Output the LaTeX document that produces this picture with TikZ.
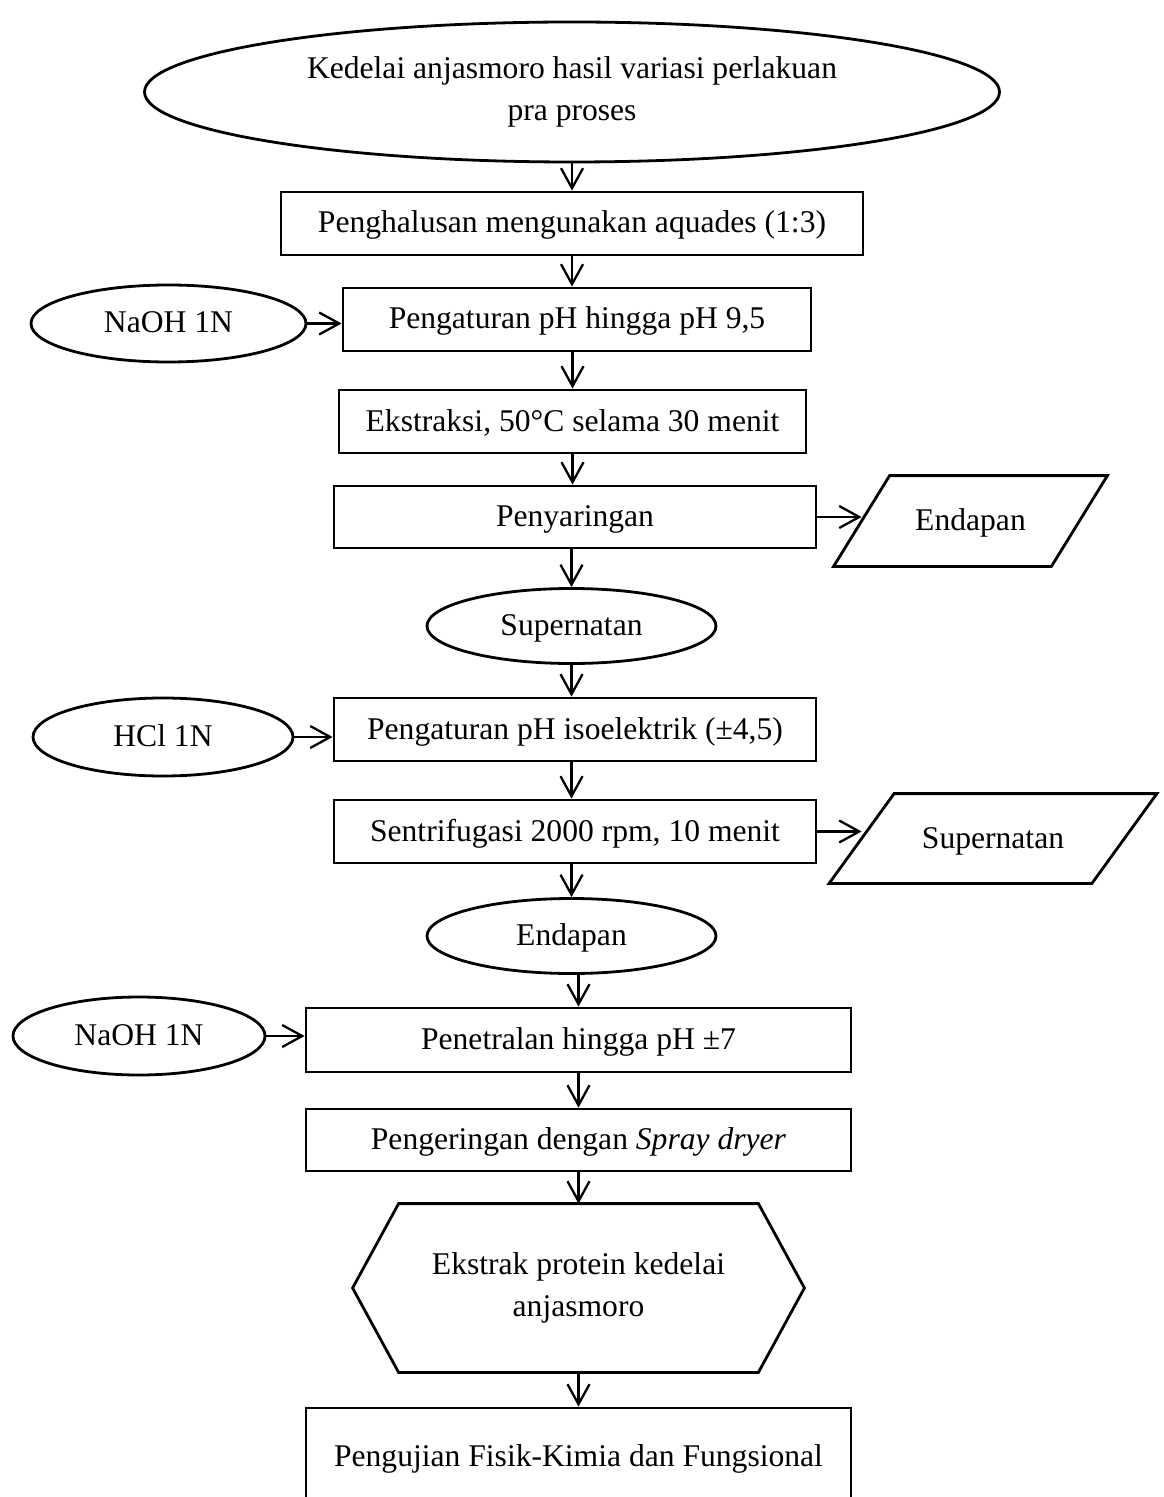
\documentclass[tikz,border=0pt]{standalone}
\usepackage{fontspec}
\setmainfont{Liberation Serif}
\usetikzlibrary{shapes.geometric,arrows.meta,calc}
\begin{document}
\begin{tikzpicture}[x=0.5pt,y=-0.5pt,
  every node/.style={font=\fontsize{15.8}{21}\selectfont},
  oneline/.style={text height=12.5pt, text depth=3pt},
  box/.style={draw, line width=1.4pt, rectangle, inner sep=0pt, align=center, oneline},
  oval/.style={draw, line width=1.4pt, ellipse, inner sep=0pt, align=center},
  frame/.style={rectangle, inner sep=0pt, align=center},
  outline/.style={draw, line width=1.4pt, line join=miter},
  arr/.style={-{Straight Barb[length=10pt,width=11pt]}, line width=1.15pt}]
\useasboundingbox (0,0) rectangle (1163,1497);
\clip (0,0) rectangle (1163,1497);
\fill[white] (0,0) rectangle (1163,1497);

% main column
\node[oval, minimum width=427.5pt, minimum height=70pt] (e0) at (572,92)
  {Kedelai anjasmoro hasil variasi perlakuan\\pra proses};
\node[box, minimum width=291pt, minimum height=31.5pt] (b1) at (572,223.5)
  {Penghalusan mengunakan aquades (1:3)};
\node[box, minimum width=234pt, minimum height=31.5pt] (b2) at (577,319.5)
  {Pengaturan pH hingga pH 9,5};
\node[box, minimum width=233.5pt, minimum height=31.5pt] (b3) at (572.5,421.5)
  {Ekstraksi, 50°C selama 30 menit};
\node[box, minimum width=241pt, minimum height=31pt] (b4) at (575,517)
  {Penyaringan};
\node[oval, oneline, minimum width=144.5pt, minimum height=37.5pt] (e1) at (571.5,626)
  {Supernatan};
\node[box, minimum width=241pt, minimum height=31.5pt] (b5) at (575,729.5)
  {Pengaturan pH isoelektrik (±4,5)};
\node[box, minimum width=241pt, minimum height=31.5pt] (b6) at (575,831.5)
  {Sentrifugasi 2000 rpm, 10 menit};
\node[oval, oneline, minimum width=144.5pt, minimum height=37.5pt] (e2) at (571.5,936)
  {Endapan};
\node[box, minimum width=272.5pt, minimum height=32pt] (b7) at (578.5,1040)
  {Penetralan hingga pH ±7};
\node[box, minimum width=272.5pt, minimum height=31pt] (b8) at (578.5,1140)
  {Pengeringan dengan \textit{Spray dryer}};
\node[frame, minimum width=225.5pt, minimum height=84pt] (hx) at (578.5,1288)
  {Ekstrak protein kedelai\\anjasmoro};
\draw[outline] (hx.west) -- ($(hx.north west)+(46,0)$) -- ($(hx.north east)+(-46,0)$)
  -- (hx.east) -- ($(hx.south east)+(-46,0)$) -- ($(hx.south west)+(46,0)$) -- cycle;
\node[box, minimum width=272.5pt, minimum height=49pt] (b9) at (578.5,1457)
  {Pengujian Fisik-Kimia dan Fungsional};

% side inputs
\node[oval, oneline, minimum width=137.5pt, minimum height=38.5pt] (n1) at (168.5,323.5) {NaOH 1N};
\node[oval, oneline, minimum width=130pt, minimum height=39pt] (h1) at (163,737) {HCl 1N};
\node[oval, oneline, minimum width=126pt, minimum height=39pt] (n2) at (139,1036) {NaOH 1N};

% outputs (parallelograms)
\node[frame, oneline, minimum width=108.5pt, minimum height=45pt] (p1) at (970.5,521) {Endapan};
\draw[outline] ($(p1.north west)+(28,0)$) -- ($(p1.north east)+(28,0)$)
  -- ($(p1.south east)+(-28,0)$) -- ($(p1.south west)+(-28,0)$) -- cycle;
\node[frame, oneline, minimum width=131pt, minimum height=44.5pt] (p2) at (993,838.5) {Supernatan};
\draw[outline] ($(p2.north west)+(32.5,0)$) -- ($(p2.north east)+(32.5,0)$)
  -- ($(p2.south east)+(-32.5,0)$) -- ($(p2.south west)+(-32.5,0)$) -- cycle;

% connectors
\draw[arr] (e0.south) -- (e0.south |- b1.north);
\draw[arr] (b1.south) -- (b1.south |- b2.north);
\draw[arr] (b3.north |- b2.south) -- (b3.north);
\draw[arr] (b3.south) -- (b3.south |- b4.north);
\draw[arr] (e1.north |- b4.south) -- (e1.north);
\draw[arr] (e1.south) -- (e1.south |- b5.north);
\draw[arr] (e1.south |- b5.south) -- (e1.south |- b6.north);
\draw[arr] (e2.north |- b6.south) -- (e2.north);
\draw[arr] (b7.north |- e2.south) -- (b7.north);
\draw[arr] (b7.south) -- (b8.north);
\draw[arr] (b8.south) -- (hx.north);
\draw[arr] (hx.south) -- (b9.north);

\draw[arr] (n1.east) -- (n1.east -| b2.west);
\draw[arr] (h1.east) -- (h1.east -| b5.west);
\draw[arr] (n2.east) -- (n2.east -| b7.west);
\draw[arr] (b4.east) -- (b4.east -| p1.west);
\draw[arr] (b6.east) -- (b6.east -| p2.west);
\end{tikzpicture}
\end{document}
